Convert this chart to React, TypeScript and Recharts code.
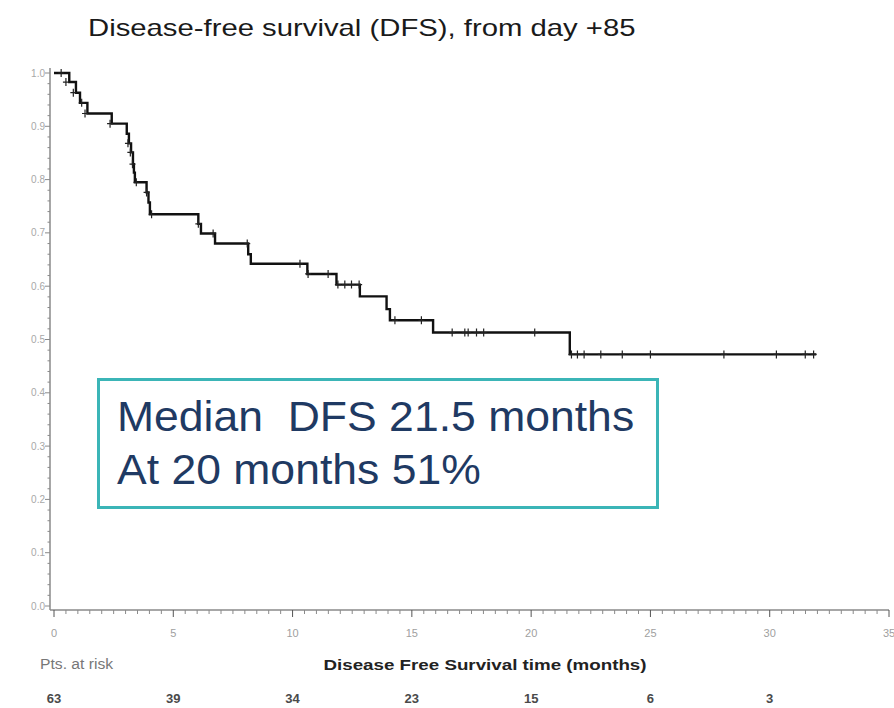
import React from 'react'
import { ComposedChart, Line, Scatter, XAxis, YAxis } from 'recharts'

// Kaplan-Meier step points: time (months) and survival after each event
const eventTimes = [0, 0.64, 0.92, 1.09, 1.4, 2.42, 3.05, 3.14, 3.23, 3.31, 3.35, 3.39, 3.88, 3.96, 4.02, 6.05, 6.16, 6.75, 8.14, 8.25, 10.62, 11.84, 12.82, 13.94, 14.08, 15.89, 21.62, 31.95]
const survival = [1.0, 0.983, 0.963, 0.944, 0.924, 0.905, 0.886, 0.868, 0.851, 0.829, 0.813, 0.795, 0.776, 0.757, 0.735, 0.717, 0.699, 0.68, 0.66, 0.642, 0.623, 0.603, 0.581, 0.557, 0.536, 0.513, 0.472, 0.472]

// censored observations
const censorTimes = [0.3, 0.5, 0.81, 1.16, 1.3, 2.35, 3.1, 3.2, 3.29, 3.45, 3.88, 4.09, 6.05, 6.67, 8.1, 10.31, 10.65, 11.49, 11.9, 12.19, 12.47, 12.79, 14.29, 15.4, 16.69, 17.22, 17.36, 17.71, 18.01, 20.15, 21.69, 21.94, 22.22, 22.92, 23.82, 25.0, 28.08, 30.28, 31.49, 31.84]
const censorSurvival = [1.0, 0.983, 0.963, 0.944, 0.924, 0.905, 0.868, 0.851, 0.829, 0.795, 0.776, 0.735, 0.717, 0.699, 0.68, 0.642, 0.623, 0.623, 0.603, 0.603, 0.603, 0.603, 0.536, 0.536, 0.513, 0.513, 0.513, 0.513, 0.513, 0.513, 0.472, 0.472, 0.472, 0.472, 0.472, 0.472, 0.472, 0.472, 0.472, 0.472]

// numbers at risk under the major x ticks
const riskTimes = [0, 5, 10, 15, 20, 25, 30]
const atRisk = [63, 39, 34, 23, 15, 6, 3]

const xMajorTicks = [0, 5, 10, 15, 20, 25, 30, 35]
const xTicks = Array.from({ length: 71 }, (_, i) => i * 0.5)
const yTicks = Array.from({ length: 51 }, (_, i) => +(i * 0.02).toFixed(2))

const stepData = eventTimes.map((t, i) => ({ t, s: survival[i] }))
const censorData = censorTimes.map((t, i) => ({ t, s: censorSurvival[i] }))

const FONT = '"Liberation Sans", Arial, Helvetica, sans-serif'
const AXIS = '#8a8a8a'

const XTick = ({ x, y, payload }: any) => {
  const v = payload.value
  const major = xMajorTicks.includes(v)
  const idx = riskTimes.indexOf(v)
  return (
    <g>
      <line x1={x} x2={x} y1={y} y2={y + (major ? 7 : 4)} stroke={major ? '#555' : AXIS} strokeWidth={1} />
      {major && (
        <text x={x} y={y + 27} textAnchor="middle" fontSize={11} fill="#a0a0a0" fontFamily={FONT}>
          {v}
        </text>
      )}
      {idx >= 0 && (
        <text x={x} y={y + 93} textAnchor="middle" fontSize={13} fontWeight="bold" fill="#4a4a4a" fontFamily={FONT}>
          {atRisk[idx]}
        </text>
      )}
    </g>
  )
}

const YTick = ({ x, y, payload }: any) => {
  const v = payload.value
  const major = Math.abs(v * 10 - Math.round(v * 10)) < 1e-6
  return (
    <g>
      <line x1={x} x2={x - (major ? 5 : 2.5)} y1={y} y2={y} stroke={AXIS} strokeWidth={1} />
      {major && (
        <text x={x - 5} y={y + 3.5} textAnchor="end" fontSize={10} fill="#a8a8a8" fontFamily={FONT}>
          {v.toFixed(1)}
        </text>
      )}
    </g>
  )
}

const CensorMark = ({ cx, cy }: any) => (
  <path d={`M${cx},${cy - 4}V${cy + 4}M${cx - 3},${cy}H${cx + 3}`} stroke="#222" strokeWidth={1.2} fill="none" />
)

export default function App() {
  return (
    <div style={{ position: 'absolute', left: 0, top: 0, width: 894, height: 708, background: '#fff', fontFamily: FONT }}>
      <div
        style={{
          position: 'absolute',
          left: 88,
          top: 16,
          fontSize: 24,
          lineHeight: '24px',
          color: '#1a1a1a',
          whiteSpace: 'nowrap',
          transform: 'scaleX(1.22)',
          transformOrigin: 'left top',
        }}
      >
        Disease-free survival (DFS), from day +85
      </div>

      <ComposedChart
        width={894}
        height={708}
        data={stepData}
        margin={{ top: 68, right: 5, bottom: 0, left: 0 }}
      >
        <XAxis
          dataKey="t"
          type="number"
          domain={[0, 35]}
          ticks={xTicks}
          interval={0}
          padding={{ left: 4, right: 0 }}
          height={98}
          stroke={AXIS}
          strokeWidth={1.5}
          tickLine={false}
          tickSize={0}
          tickMargin={0}
          tick={XTick}
          allowDataOverflow
        />
        <YAxis
          type="number"
          domain={[0, 1]}
          ticks={yTicks}
          interval={0}
          padding={{ top: 5, bottom: 4 }}
          width={50}
          stroke={AXIS}
          strokeWidth={1.5}
          tickLine={false}
          tickSize={0}
          tickMargin={0}
          tick={YTick}
        />
        <Line
          type="stepAfter"
          dataKey="s"
          stroke="#111"
          strokeWidth={2.4}
          dot={false}
          activeDot={false}
          isAnimationActive={false}
        />
        <Scatter data={censorData} dataKey="s" shape={CensorMark} isAnimationActive={false} />
      </ComposedChart>

      <div
        style={{
          position: 'absolute',
          left: 97,
          top: 378,
          width: 562,
          height: 131,
          boxSizing: 'border-box',
          border: '3px solid #3bb5b7',
          background: '#fff',
        }}
      >
        <div
          style={{
            padding: '9px 0 0 16px',
            fontSize: 42,
            lineHeight: '53px',
            color: '#1f3a63',
            whiteSpace: 'pre',
            transform: 'scaleX(1.06)',
            transformOrigin: 'left top',
          }}
        >
          {'Median  DFS 21.5 months\nAt 20 months 51%'}
        </div>
      </div>

      <div
        style={{
          position: 'absolute',
          left: 40,
          top: 657,
          fontSize: 14,
          lineHeight: '14px',
          color: '#777',
          whiteSpace: 'nowrap',
          transform: 'scaleX(1.12)',
          transformOrigin: 'left top',
        }}
      >
        Pts. at risk
      </div>
      <div
        style={{
          position: 'absolute',
          left: 485,
          top: 657,
          transform: 'translateX(-50%) scaleX(1.25)',
          fontSize: 15,
          lineHeight: '15px',
          fontWeight: 'bold',
          color: '#222',
          whiteSpace: 'nowrap',
        }}
      >
        Disease Free Survival time (months)
      </div>
    </div>
  )
}
